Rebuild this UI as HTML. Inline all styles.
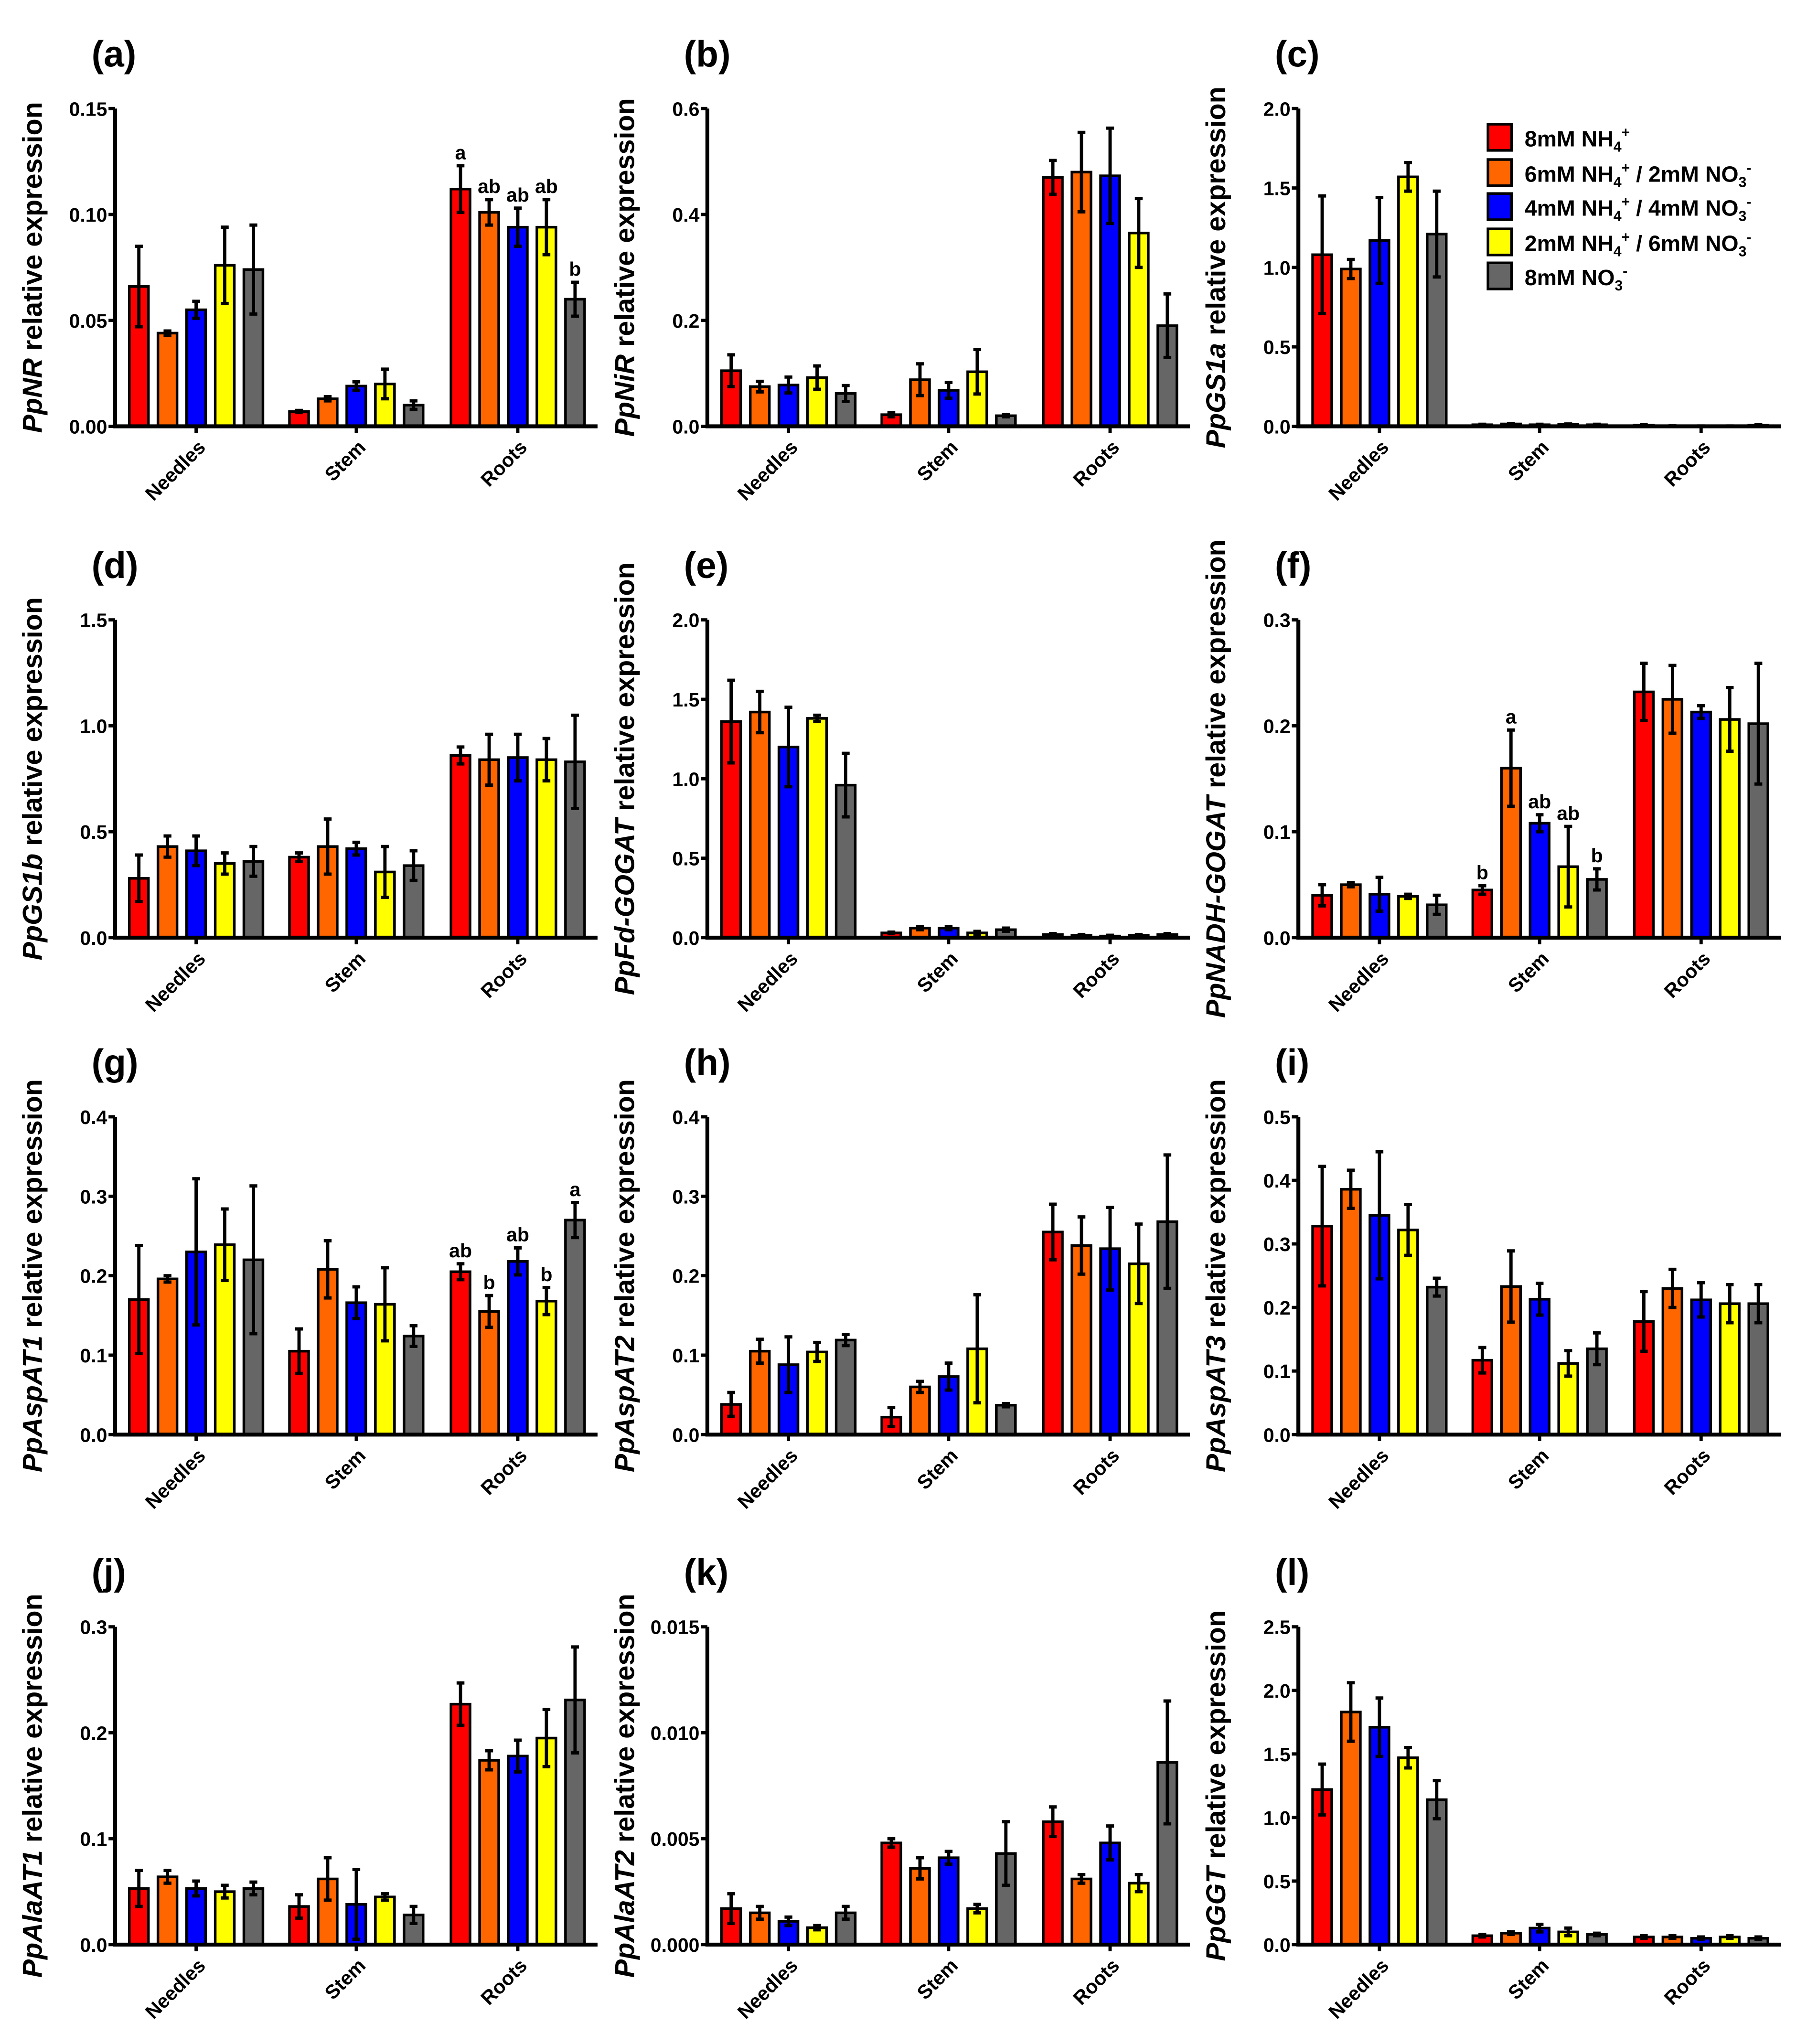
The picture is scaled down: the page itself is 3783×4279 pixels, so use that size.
<!DOCTYPE html>
<html><head><meta charset="utf-8"><style>
html,body{margin:0;padding:0;background:#fff;}
svg{display:block;font-family:"Liberation Sans",Arial,sans-serif;font-weight:bold;}
</style></head><body>
<svg id="fig" xmlns="http://www.w3.org/2000/svg" width="3783" height="4279" viewBox="0 0 1382 1563" preserveAspectRatio="none"></svg>
<script>
const groups=["Needles","Stem","Roots"];
const colors=["#ff0000","#ff6600","#0000ff","#ffff00","#666666"];
const panelLetters=["(a)","(b)","(c)","(d)","(e)","(f)","(g)","(h)","(i)","(j)","(k)","(l)"];
const genes=["PpNR","PpNiR","PpGS1a","PpGS1b","PpFd-GOGAT","PpNADH-GOGAT","PpAspAT1","PpAspAT2","PpAspAT3","PpAlaAT1","PpAlaAT2","PpGGT"];
const yMax=[0.15,0.6,2.0,1.5,2.0,0.3,0.4,0.4,0.5,0.3,0.015,2.5];
const yStep=[0.05,0.2,0.5,0.5,0.5,0.1,0.1,0.1,0.1,0.1,0.005,0.5];
const yDec=[2,1,1,1,1,1,1,1,1,1,3,1];
const vals=[
[[0.066,0.044,0.055,0.076,0.074],[0.007,0.013,0.019,0.020,0.010],[0.112,0.101,0.094,0.094,0.060]],
[[0.105,0.075,0.078,0.092,0.062],[0.022,0.088,0.068,0.103,0.020],[0.47,0.48,0.473,0.365,0.19]],
[[1.08,0.99,1.17,1.57,1.21],[0.01,0.015,0.01,0.012,0.01],[0.008,0.002,0.001,0.001,0.008]],
[[0.28,0.43,0.41,0.35,0.36],[0.38,0.43,0.42,0.31,0.34],[0.86,0.84,0.85,0.84,0.83]],
[[1.36,1.42,1.2,1.38,0.96],[0.03,0.06,0.06,0.03,0.05],[0.02,0.015,0.01,0.015,0.02]],
[[0.040,0.050,0.041,0.039,0.031],[0.045,0.16,0.108,0.067,0.055],[0.232,0.225,0.213,0.206,0.202]],
[[0.17,0.196,0.23,0.239,0.22],[0.105,0.208,0.166,0.164,0.124],[0.205,0.155,0.218,0.168,0.27]],
[[0.038,0.105,0.088,0.104,0.119],[0.022,0.06,0.073,0.108,0.037],[0.255,0.238,0.234,0.215,0.268]],
[[0.328,0.386,0.345,0.322,0.232],[0.117,0.233,0.213,0.112,0.135],[0.178,0.23,0.212,0.206,0.206]],
[[0.053,0.064,0.053,0.050,0.053],[0.036,0.062,0.038,0.045,0.028],[0.227,0.174,0.178,0.195,0.231]],
[[0.0017,0.0015,0.0011,0.0008,0.0015],[0.0048,0.0036,0.0041,0.0017,0.0043],[0.0058,0.0031,0.0048,0.0029,0.0086]],
[[1.22,1.83,1.71,1.47,1.14],[0.07,0.09,0.13,0.10,0.08],[0.06,0.06,0.05,0.06,0.05]]
];
const errs=[
[[0.019,0.001,0.004,0.018,0.021],[0.0005,0.001,0.002,0.007,0.002],[0.011,0.006,0.009,0.013,0.008]],
[[0.03,0.01,0.015,0.022,0.015],[0.004,0.03,0.015,0.042,0.002],[0.032,0.075,0.09,0.065,0.06]],
[[0.37,0.06,0.27,0.09,0.27],[0.003,0.003,0.003,0.003,0.003],[0.002,0.001,0.001,0.001,0.002]],
[[0.11,0.05,0.07,0.05,0.07],[0.02,0.13,0.03,0.12,0.07],[0.04,0.12,0.11,0.10,0.22]],
[[0.26,0.13,0.25,0.02,0.2],[0.005,0.01,0.01,0.01,0.01],[0.005,0.005,0.005,0.005,0.005]],
[[0.01,0.002,0.016,0.002,0.009],[0.004,0.036,0.008,0.038,0.01],[0.027,0.032,0.006,0.03,0.057]],
[[0.068,0.004,0.092,0.045,0.093],[0.028,0.036,0.02,0.046,0.013],[0.01,0.02,0.017,0.017,0.022]],
[[0.015,0.015,0.035,0.012,0.007],[0.012,0.007,0.017,0.068,0.002],[0.035,0.036,0.052,0.05,0.084]],
[[0.094,0.03,0.1,0.04,0.014],[0.02,0.056,0.025,0.02,0.025],[0.047,0.03,0.027,0.03,0.03]],
[[0.017,0.006,0.007,0.006,0.006],[0.011,0.02,0.033,0.003,0.008],[0.02,0.009,0.015,0.027,0.05]],
[[0.0007,0.0003,0.0002,0.0001,0.0003],[0.0002,0.0005,0.0003,0.0002,0.0015],[0.0007,0.0002,0.0008,0.0004,0.0029]],
[[0.2,0.23,0.23,0.08,0.15],[0.01,0.01,0.03,0.03,0.01],[0.01,0.01,0.01,0.01,0.01]]
];
const sigLetters={0:{2:["a","ab","ab","ab","b"]},5:{1:["b","a","ab","ab","b"]},6:{2:["ab","b","ab","b","a"]}};
const legendLabels=[["8mM NH","4","+","",""],["6mM NH","4","+"," / 2mM NO","3"],["4mM NH","4","+"," / 4mM NO","3"],["2mM NH","4","+"," / 6mM NO","3"],["8mM NO","3","-","",""]];

const NS="http://www.w3.org/2000/svg";
const svg=document.getElementById('fig');
function mk(tag,attrs,parent){const e=document.createElementNS(NS,tag);for(const k in attrs)e.setAttribute(k,attrs[k]);(parent||svg).appendChild(e);return e;}

const colAxisX=[88,541,993];
const rowZeroY=[326,717,1097,1487];
const plotH=243, plotW=369;
const groupOff=[62,184.5,308], barSpace=21.9, barW=14.6;

for(let p=0;p<12;p++){
  const col=p%3,row=Math.floor(p/3);
  const ax=colAxisX[col], y0=rowZeroY[row];
  const g=mk('g',{});
  
  
  const yS=v=>y0-v/yMax[p]*plotH;
  const letter=mk('text',{x:ax-18,y:y0-plotH-32,'font-size':28,fill:'#000'},g);
  letter.textContent=panelLetters[p];
  
  
  const tx=ax-56, ty=y0-plotH/2;
  const t=mk('text',{x:tx,y:ty,'font-size':21,'text-anchor':'middle',transform:`rotate(-90 ${tx} ${ty})`,fill:'#000'},g);
  
  
  const ts1=mk('tspan',{'font-style':'italic'},t);ts1.textContent=genes[p];
  const ts2=mk('tspan',{},t);ts2.textContent=' relative expression';
  const n=Math.round(yMax[p]/yStep[p]);
  for(let i=0;i<=n;i++){
    const v=i*yStep[p],y=yS(v);
    const tk=mk('line',{x1:ax-5,x2:ax,y1:y,y2:y,stroke:'#000','stroke-width':2.5},g);
    
    
    const tl=mk('text',{x:ax-6,y:y+5.5,'font-size':15,'text-anchor':'end',fill:'#000'},g);
    
    
    tl.textContent=v.toFixed(yDec[p]);
  }
  for(let gi=0;gi<3;gi++){
    const cx=ax+groupOff[gi];
    for(let s=0;s<5;s++){
      const bx=cx+(s-2)*barSpace, v=vals[p][gi][s], e=errs[p][gi][s];
      const top=yS(v);
      const b=mk('rect',{x:bx-barW/2,y:top,width:barW,height:Math.max(y0-top,0.5),fill:colors[s],stroke:'#000','stroke-width':2},g);
      
      
      const eh=yS(v+e), el=yS(v-e);
      const eb=mk('path',{d:`M${bx},${el}V${eh}M${bx-3},${eh}H${bx+3}M${bx-3},${el}H${bx+3}`,stroke:'#000','stroke-width':2.5,fill:'none'},g);
      
      
      if(sigLetters[p]&&sigLetters[p][gi]){
        const sl=mk('text',{x:bx,y:eh-5,'font-size':15,'text-anchor':'middle',fill:'#000'},g);
        
        
        sl.textContent=sigLetters[p][gi][s];
      }
    }
    const xt=mk('line',{x1:cx,x2:cx,y1:y0,y2:y0+5,stroke:'#000','stroke-width':2.5},g);
    
    
    const lx=cx+8,ly=y0+17;
    const cl=mk('text',{x:lx,y:ly,'font-size':15,'text-anchor':'end',transform:`rotate(-45 ${lx} ${ly})`,fill:'#000'},g);
    
    
    cl.textContent=groups[gi];
  }
  const axes=mk('path',{d:`M${ax},${y0-plotH}V${y0}H${ax+plotW}`,stroke:'#000','stroke-width':3,fill:'none'},g);
  
  
}
const lg=mk('g',{});


const legY=[95,122,148,175,201];
for(let i=0;i<5;i++){
  const r=mk('rect',{x:1138,y:legY[i],width:18,height:20,fill:colors[i],stroke:'#000','stroke-width':2},lg);
  
  
  const tx=mk('text',{x:1166,y:legY[i]+17,'font-size':17,fill:'#000'},lg);
  
  
  const L=legendLabels[i];
  let a=mk('tspan',{},tx);a.textContent=L[0];
  a=mk('tspan',{'font-size':11,dy:4},tx);a.textContent=L[1];
  a=mk('tspan',{'font-size':11,dy:-11},tx);a.textContent=L[2];
  if(L[3]){
    a=mk('tspan',{dy:7},tx);a.textContent=L[3];
    a=mk('tspan',{'font-size':11,dy:4},tx);a.textContent=L[4];
    a=mk('tspan',{'font-size':11,dy:-11},tx);a.textContent='-';
  }
}
</script>
</body></html>
